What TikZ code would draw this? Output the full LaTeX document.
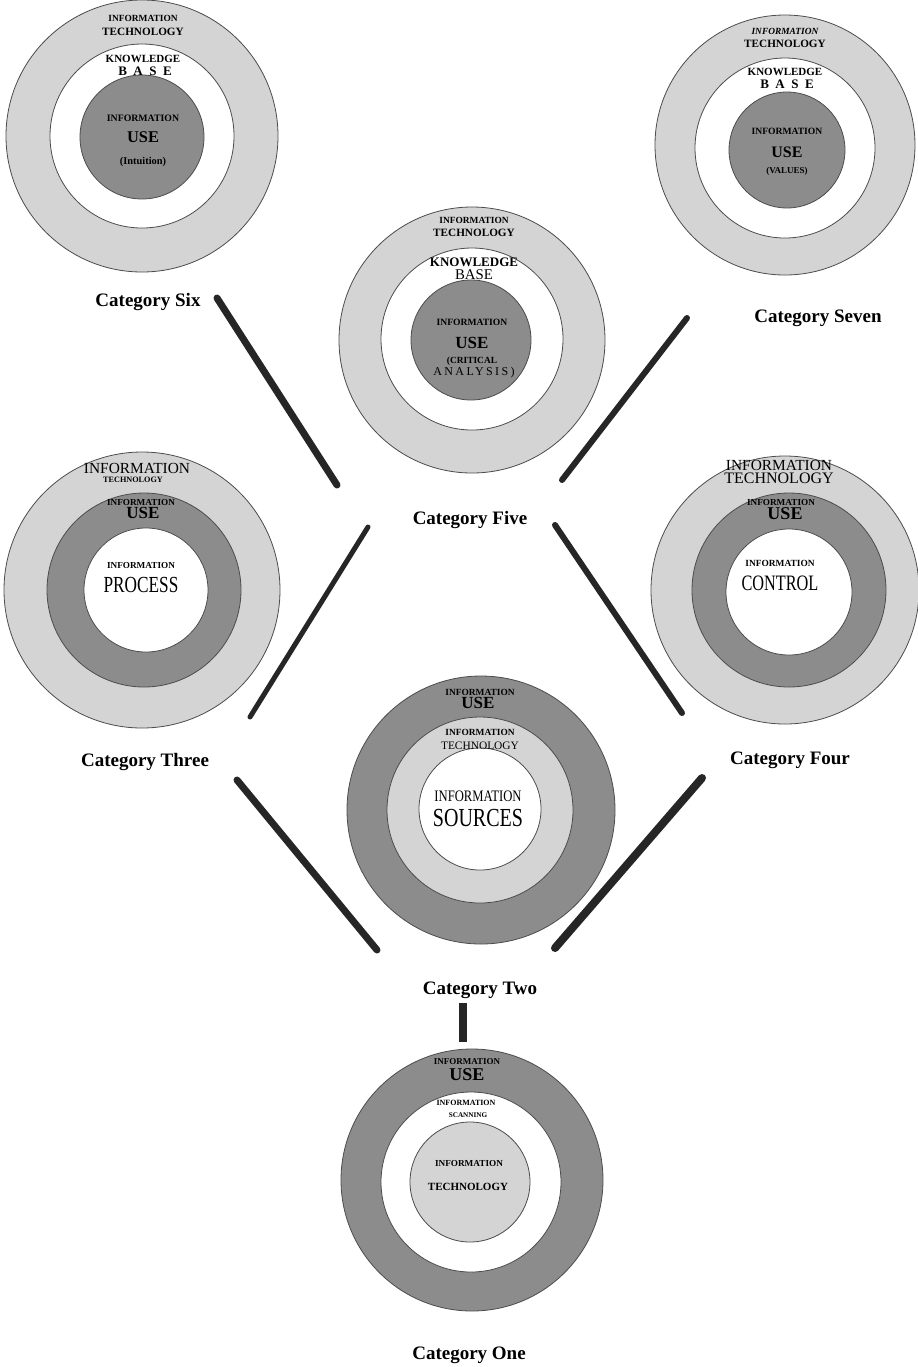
\documentclass[tikz,border=0pt]{standalone}
\usepackage{fontspec}
\setmainfont{Liberation Serif}
\usepackage{graphicx}
\usepackage{xcolor}
\usepackage{tikz}
\colorlet{ringlight}{black!17}
\colorlet{ringdark}{black!45}
\newcommand{\narrowtxt}[2][.75]{\scalebox{#1}[1]{#2}}

\begin{document}
\begin{tikzpicture}[
    x=0.5pt, y=-0.5pt,
    ring/.style={circle, draw=black!70, line width=0.4pt, fill=#1, inner sep=0pt},
    ring/.default=white,
    bf/.style={font=\bfseries\fontsize{#1}{#1}\selectfont, inner sep=0pt},
    rm/.style={font=\fontsize{#1}{#1}\selectfont, inner sep=0pt},
    cat/.style={font=\bfseries\fontsize{9.5}{11}\selectfont, inner sep=0pt},
    bar/.style={line width=3.5pt, color=black!85, line cap=round},
  ]
  \useasboundingbox (0,0) rectangle (917,1367);

  % Category Six -- knowledge base round intuition
  \node[ring=ringlight, minimum size=136pt] (six-o) at (142,136) {};
  \node[ring, minimum size=92pt] (six-m) at (142,136) {};
  \node[ring=ringdark, minimum size=62pt] (six-i) at (142,137) {};
  \node[bf=4.7] (six-t1) at (143,18) {INFORMATION};
  \node[bf=5.6] (six-t2) at (143,32) {TECHNOLOGY};
  \node[bf=5.5] (six-t3) at (143,59) {KNOWLEDGE};
  \node[bf=6.5] (six-t4) at (145,71) {\addfontfeature{LetterSpace=50}BASE};
  \node[bf=4.9] (six-t5) at (143,118) {INFORMATION};
  \node[bf=8.2] (six-t6) at (143,137) {USE};
  \node[bf=5.2] (six-t7) at (143,162) {(Intuition)};
  \node[cat] (six) at (148,302) {Category Six};

  % Category Seven -- values
  \node[ring=ringlight, minimum size=130pt] (seven-o) at (785,145) {};
  \node[ring, minimum size=90pt] (seven-m) at (785,148) {};
  \node[ring=ringdark, minimum size=58pt] (seven-i) at (787,150) {};
  \node[bf=4.7] (seven-t1) at (785,31) {\itshape INFORMATION};
  \node[bf=5.6] (seven-t2) at (785,44) {TECHNOLOGY};
  \node[bf=5.5] (seven-t3) at (785,72) {KNOWLEDGE};
  \node[bf=6.5] (seven-t4) at (787,84) {\addfontfeature{LetterSpace=50}BASE};
  \node[bf=4.8] (seven-t5) at (787,131) {INFORMATION};
  \node[bf=8] (seven-t6) at (787,152) {USE};
  \node[bf=4.5] (seven-t7) at (787,171) {(VALUES)};
  \node[cat] (seven) at (818,318) {Category Seven};

  % Category Five -- critical analysis
  \node[ring=ringlight, minimum size=133pt] (five-o) at (472,340) {};
  \node[ring, minimum size=91pt] (five-m) at (472,339) {};
  \node[ring=ringdark, minimum size=60pt] (five-i) at (471,340) {};
  \node[bf=4.7] (five-t1) at (474,220) {INFORMATION};
  \node[bf=5.6] (five-t2) at (474,233) {TECHNOLOGY};
  \node[bf=6.5] (five-t3) at (474,262) {KNOWLEDGE};
  \node[rm=7.4] (five-t4) at (474,275) {BASE};
  \node[bf=4.8] (five-t5) at (472,322) {INFORMATION};
  \node[bf=8.5] (five-t6) at (472,343) {USE};
  \node[bf=4.7] (five-t7) at (472,361) {(CRITICAL};
  \node[rm=6] (five-t8) at (474,373) {\addfontfeature{LetterSpace=20}ANALYSIS)};
  \node[cat] (five) at (470,520) {Category Five};

  % Category Three -- process
  \node[ring=ringlight, minimum size=138pt] (three-o) at (142,590) {};
  \node[ring=ringdark, minimum size=97pt] (three-m) at (144,590) {};
  \node[ring, minimum size=62pt] (three-i) at (146,590) {};
  \node[rm=7.7] (three-t1) at (137,468) {INFORMATION};
  \node[bf=4.1] (three-t2) at (133,480) {TECHNOLOGY};
  \node[bf=4.6] (three-t3) at (141,502) {INFORMATION};
  \node[bf=8.5] (three-t4) at (143,513) {USE};
  \node[bf=4.6] (three-t5) at (141,565) {INFORMATION};
  \node[rm=11.5] (three-t6) at (141,585) {\narrowtxt{PROCESS}};
  \node[cat] (three) at (145,762) {Category Three};

  % Category Four -- control
  \node[ring=ringlight, minimum size=134pt] (four-o) at (785,590) {};
  \node[ring=ringdark, minimum size=97pt] (four-m) at (789,590) {};
  \node[ring, minimum size=63pt] (four-i) at (789,592) {};
  \node[rm=7.7] (four-t1) at (779,465) {INFORMATION};
  \node[rm=8] (four-t2) at (779,478) {TECHNOLOGY};
  \node[bf=4.6] (four-t3) at (781,502) {INFORMATION};
  \node[bf=9] (four-t4) at (785,514) {USE};
  \node[bf=4.7] (four-t5) at (780,563) {INFORMATION};
  \node[rm=11] (four-t6) at (780,583) {\narrowtxt[.74]{CONTROL}};
  \node[cat] (four) at (790,760) {Category Four};

  % Category Two -- sources
  \node[ring=ringdark, minimum size=134pt] (two-o) at (481,810) {};
  \node[ring=ringlight, minimum size=93pt] (two-m) at (480,810) {};
  \node[ring, minimum size=61pt] (two-i) at (480,809) {};
  \node[bf=4.7] (two-t1) at (480,692) {INFORMATION};
  \node[bf=8.5] (two-t2) at (478,703) {USE};
  \node[bf=4.7] (two-t3) at (480,732) {INFORMATION};
  \node[rm=5.7] (two-t4) at (480,746) {TECHNOLOGY};
  \node[rm=8] (two-t5) at (478,796) {\narrowtxt[.79]{INFORMATION}};
  \node[rm=13] (two-t6) at (478,818) {\narrowtxt[.77]{SOURCES}};
  \node[cat] (two) at (480,990) {Category Two};

  % Category One -- scanning
  \node[ring=ringdark, minimum size=131pt] (one-o) at (472,1180) {};
  \node[ring, minimum size=90pt] (one-m) at (471,1182) {};
  \node[ring=ringlight, minimum size=60pt] (one-i) at (470,1182) {};
  \node[bf=4.5] (one-t1) at (467,1062) {INFORMATION};
  \node[bf=9] (one-t2) at (467,1075) {USE};
  \node[bf=4] (one-t3) at (466,1103) {INFORMATION};
  \node[bf=3.6] (one-t4) at (468,1115) {SCANNING};
  \node[bf=4.6] (one-t5) at (469,1163) {INFORMATION};
  \node[bf=5.5] (one-t6) at (468,1187) {TECHNOLOGY};
  \node[cat] (one) at (469,1355) {Category One};

  % bar ends
  \coordinate (b1a) at (217,298);  \coordinate (b1b) at (337,485);
  \coordinate (b2a) at (687,318);  \coordinate (b2b) at (562,480);
  \coordinate (b3a) at (368,527);  \coordinate (b3b) at (250,717);
  \coordinate (b4a) at (555,525);  \coordinate (b4b) at (682,713);
  \coordinate (b5a) at (237,780);  \coordinate (b5b) at (377,950);
  \coordinate (b6a) at (702,778);  \coordinate (b6b) at (555,948);
  \coordinate (b7a) at (463,1003); \coordinate (b7b) at (463,1042);

  \draw[bar] (b1a) -- (b1b);
  \draw[bar, line width=3pt] (b2a) -- (b2b);
  \draw[bar, line width=2.5pt] (b3a) -- (b3b);
  \draw[bar, line width=3pt] (b4a) -- (b4b);
  \draw[bar] (b5a) -- (b5b);
  \draw[bar, line width=4pt] (b6a) -- (b6b);
  \draw[bar, line width=4pt, line cap=butt] (b7a) -- (b7b);
\end{tikzpicture}
\end{document}
